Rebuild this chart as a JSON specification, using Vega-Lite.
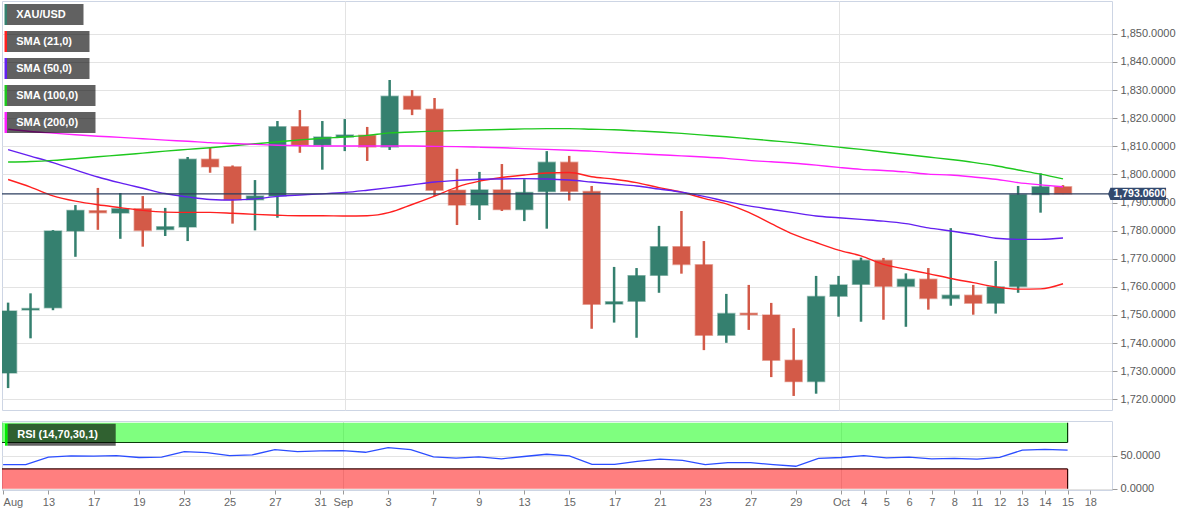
{
  "$schema": "https://vega.github.io/schema/vega-lite/v6.json",
  "padding": 0,
  "background": "white",
  "spacing": 9,
  "config": {
    "view": {"fill": "#f6f6f6", "stroke": "#cdd5e4", "strokeWidth": 1},
    "font": "Liberation Sans",
    "axis": {"labelFont": "Liberation Sans", "labelFontSize": 11, "labelColor": "#5a5a5a", "tickColor": "#9a9a9a", "gridColor": "#e3e3e3", "domain": false, "labelOverlap": false}
  },
  "datasets": {
    "candles": [
      {"i": 0, "date": "Aug 11", "open": 1729.4, "high": 1754.4, "low": 1724.0, "close": 1751.4},
      {"i": 1, "date": "Aug 12", "open": 1751.8, "high": 1757.7, "low": 1741.7, "close": 1752.3},
      {"i": 2, "date": "Aug 13", "open": 1752.6, "high": 1780.2, "low": 1751.7, "close": 1779.9},
      {"i": 3, "date": "Aug 16", "open": 1779.9, "high": 1789.1, "low": 1770.7, "close": 1787.2},
      {"i": 4, "date": "Aug 17", "open": 1787.1, "high": 1795.2, "low": 1780.3, "close": 1786.4},
      {"i": 5, "date": "Aug 18", "open": 1786.3, "high": 1793.4, "low": 1777.1, "close": 1787.8},
      {"i": 6, "date": "Aug 19", "open": 1787.8, "high": 1792.3, "low": 1774.3, "close": 1780.1},
      {"i": 7, "date": "Aug 20", "open": 1780.4, "high": 1788.1, "low": 1778.1, "close": 1781.4},
      {"i": 8, "date": "Aug 23", "open": 1781.3, "high": 1806.2, "low": 1776.3, "close": 1805.4},
      {"i": 9, "date": "Aug 24", "open": 1805.4, "high": 1809.4, "low": 1800.6, "close": 1802.7},
      {"i": 10, "date": "Aug 25", "open": 1802.7, "high": 1803.2, "low": 1782.5, "close": 1791.0},
      {"i": 11, "date": "Aug 26", "open": 1791.0, "high": 1798.0, "low": 1780.1, "close": 1792.3},
      {"i": 12, "date": "Aug 27", "open": 1792.3, "high": 1819.0, "low": 1784.6, "close": 1817.0},
      {"i": 13, "date": "Aug 30", "open": 1817.0, "high": 1822.9, "low": 1807.7, "close": 1810.5},
      {"i": 14, "date": "Aug 31", "open": 1810.5, "high": 1819.0, "low": 1801.7, "close": 1813.3},
      {"i": 15, "date": "Sep 1", "open": 1813.3, "high": 1819.7, "low": 1808.3, "close": 1814.0},
      {"i": 16, "date": "Sep 2", "open": 1813.9, "high": 1816.9, "low": 1804.8, "close": 1809.8},
      {"i": 17, "date": "Sep 3", "open": 1809.8, "high": 1833.6, "low": 1808.7, "close": 1827.8},
      {"i": 18, "date": "Sep 6", "open": 1827.8, "high": 1830.0, "low": 1821.1, "close": 1823.2},
      {"i": 19, "date": "Sep 7", "open": 1823.2, "high": 1827.2, "low": 1792.3, "close": 1794.4},
      {"i": 20, "date": "Sep 8", "open": 1794.4, "high": 1802.0, "low": 1782.0, "close": 1789.1},
      {"i": 21, "date": "Sep 9", "open": 1789.1, "high": 1800.9, "low": 1783.8, "close": 1794.5},
      {"i": 22, "date": "Sep 10", "open": 1794.5, "high": 1803.7, "low": 1787.0, "close": 1787.5},
      {"i": 23, "date": "Sep 13", "open": 1787.5, "high": 1798.3, "low": 1783.4, "close": 1793.6},
      {"i": 24, "date": "Sep 14", "open": 1793.9, "high": 1808.3, "low": 1780.7, "close": 1804.3},
      {"i": 25, "date": "Sep 15", "open": 1804.3, "high": 1806.6, "low": 1790.7, "close": 1794.0},
      {"i": 26, "date": "Sep 16", "open": 1793.9, "high": 1795.9, "low": 1745.1, "close": 1753.8},
      {"i": 27, "date": "Sep 17", "open": 1753.9, "high": 1767.1, "low": 1747.3, "close": 1754.7},
      {"i": 28, "date": "Sep 20", "open": 1754.9, "high": 1766.7, "low": 1741.9, "close": 1764.0},
      {"i": 29, "date": "Sep 21", "open": 1764.1, "high": 1781.7, "low": 1757.9, "close": 1774.3},
      {"i": 30, "date": "Sep 22", "open": 1774.3, "high": 1787.0, "low": 1764.7, "close": 1768.0},
      {"i": 31, "date": "Sep 23", "open": 1767.9, "high": 1776.3, "low": 1737.5, "close": 1742.8},
      {"i": 32, "date": "Sep 24", "open": 1742.8, "high": 1757.5, "low": 1740.1, "close": 1750.5},
      {"i": 33, "date": "Sep 27", "open": 1750.6, "high": 1760.7, "low": 1744.7, "close": 1750.1},
      {"i": 34, "date": "Sep 28", "open": 1750.0, "high": 1754.3, "low": 1727.9, "close": 1733.9},
      {"i": 35, "date": "Sep 29", "open": 1733.9, "high": 1745.3, "low": 1721.2, "close": 1726.3},
      {"i": 36, "date": "Sep 30", "open": 1726.3, "high": 1763.9, "low": 1722.0, "close": 1756.6},
      {"i": 37, "date": "Oct 1", "open": 1756.7, "high": 1763.9, "low": 1749.4, "close": 1760.7},
      {"i": 38, "date": "Oct 4", "open": 1760.9, "high": 1770.4, "low": 1747.6, "close": 1769.4},
      {"i": 39, "date": "Oct 5", "open": 1769.4, "high": 1770.3, "low": 1748.3, "close": 1760.2},
      {"i": 40, "date": "Oct 6", "open": 1760.2, "high": 1764.8, "low": 1745.8, "close": 1762.7},
      {"i": 41, "date": "Oct 7", "open": 1762.7, "high": 1766.7, "low": 1751.9, "close": 1755.9},
      {"i": 42, "date": "Oct 8", "open": 1755.9, "high": 1780.9, "low": 1753.3, "close": 1757.0},
      {"i": 43, "date": "Oct 11", "open": 1757.0, "high": 1760.7, "low": 1750.1, "close": 1754.2},
      {"i": 44, "date": "Oct 12", "open": 1754.2, "high": 1769.2, "low": 1750.5, "close": 1760.0},
      {"i": 45, "date": "Oct 13", "open": 1760.1, "high": 1795.9, "low": 1757.9, "close": 1792.9},
      {"i": 46, "date": "Oct 14", "open": 1792.9, "high": 1800.4, "low": 1786.4, "close": 1795.6},
      {"i": 47, "date": "Oct 15", "open": 1795.6, "high": 1796.2, "low": 1793.0, "close": 1793.06}
    ],
    "sma": [
      {"i": 0, "SMA (21,0)": 1798.2, "SMA (50,0)": 1808.8, "SMA (100,0)": 1804.4, "SMA (200,0)": 1816.1},
      {"i": 1, "SMA (21,0)": 1795.5, "SMA (50,0)": 1806.5, "SMA (100,0)": 1804.6, "SMA (200,0)": 1815.3},
      {"i": 2, "SMA (21,0)": 1792.4, "SMA (50,0)": 1804.2, "SMA (100,0)": 1805.0, "SMA (200,0)": 1814.7},
      {"i": 3, "SMA (21,0)": 1790.5, "SMA (50,0)": 1801.6, "SMA (100,0)": 1805.6, "SMA (200,0)": 1814.1},
      {"i": 4, "SMA (21,0)": 1789.2, "SMA (50,0)": 1799.1, "SMA (100,0)": 1806.3, "SMA (200,0)": 1813.6},
      {"i": 5, "SMA (21,0)": 1788.2, "SMA (50,0)": 1797.0, "SMA (100,0)": 1806.9, "SMA (200,0)": 1813.2},
      {"i": 6, "SMA (21,0)": 1787.2, "SMA (50,0)": 1795.1, "SMA (100,0)": 1807.6, "SMA (200,0)": 1812.7},
      {"i": 7, "SMA (21,0)": 1786.6, "SMA (50,0)": 1793.2, "SMA (100,0)": 1808.3, "SMA (200,0)": 1812.2},
      {"i": 8, "SMA (21,0)": 1786.5, "SMA (50,0)": 1792.0, "SMA (100,0)": 1808.9, "SMA (200,0)": 1811.8},
      {"i": 9, "SMA (21,0)": 1786.5, "SMA (50,0)": 1791.1, "SMA (100,0)": 1809.5, "SMA (200,0)": 1811.3},
      {"i": 10, "SMA (21,0)": 1786.2, "SMA (50,0)": 1790.9, "SMA (100,0)": 1810.2, "SMA (200,0)": 1811.0},
      {"i": 11, "SMA (21,0)": 1785.8, "SMA (50,0)": 1791.3, "SMA (100,0)": 1810.9, "SMA (200,0)": 1810.7},
      {"i": 12, "SMA (21,0)": 1785.5, "SMA (50,0)": 1792.2, "SMA (100,0)": 1811.6, "SMA (200,0)": 1810.4},
      {"i": 13, "SMA (21,0)": 1785.3, "SMA (50,0)": 1792.7, "SMA (100,0)": 1812.3, "SMA (200,0)": 1810.2},
      {"i": 14, "SMA (21,0)": 1785.3, "SMA (50,0)": 1793.1, "SMA (100,0)": 1812.9, "SMA (200,0)": 1810.1},
      {"i": 15, "SMA (21,0)": 1785.2, "SMA (50,0)": 1793.6, "SMA (100,0)": 1813.3, "SMA (200,0)": 1810.1},
      {"i": 16, "SMA (21,0)": 1785.3, "SMA (50,0)": 1794.4, "SMA (100,0)": 1813.9, "SMA (200,0)": 1810.1},
      {"i": 17, "SMA (21,0)": 1786.5, "SMA (50,0)": 1795.3, "SMA (100,0)": 1814.8, "SMA (200,0)": 1810.1},
      {"i": 18, "SMA (21,0)": 1789.3, "SMA (50,0)": 1796.3, "SMA (100,0)": 1815.1, "SMA (200,0)": 1810.1},
      {"i": 19, "SMA (21,0)": 1792.3, "SMA (50,0)": 1797.3, "SMA (100,0)": 1815.4, "SMA (200,0)": 1810.0},
      {"i": 20, "SMA (21,0)": 1795.5, "SMA (50,0)": 1797.9, "SMA (100,0)": 1815.6, "SMA (200,0)": 1809.9},
      {"i": 21, "SMA (21,0)": 1797.6, "SMA (50,0)": 1798.3, "SMA (100,0)": 1815.8, "SMA (200,0)": 1809.7},
      {"i": 22, "SMA (21,0)": 1798.9, "SMA (50,0)": 1798.4, "SMA (100,0)": 1816.0, "SMA (200,0)": 1809.5},
      {"i": 23, "SMA (21,0)": 1799.8, "SMA (50,0)": 1798.5, "SMA (100,0)": 1816.2, "SMA (200,0)": 1809.2},
      {"i": 24, "SMA (21,0)": 1800.5, "SMA (50,0)": 1798.4, "SMA (100,0)": 1816.3, "SMA (200,0)": 1808.9},
      {"i": 25, "SMA (21,0)": 1800.7, "SMA (50,0)": 1798.0, "SMA (100,0)": 1816.3, "SMA (200,0)": 1808.6},
      {"i": 26, "SMA (21,0)": 1799.2, "SMA (50,0)": 1797.3, "SMA (100,0)": 1816.1, "SMA (200,0)": 1808.3},
      {"i": 27, "SMA (21,0)": 1798.3, "SMA (50,0)": 1796.6, "SMA (100,0)": 1815.9, "SMA (200,0)": 1807.8},
      {"i": 28, "SMA (21,0)": 1797.1, "SMA (50,0)": 1795.9, "SMA (100,0)": 1815.5, "SMA (200,0)": 1807.4},
      {"i": 29, "SMA (21,0)": 1795.3, "SMA (50,0)": 1794.8, "SMA (100,0)": 1815.1, "SMA (200,0)": 1807.0},
      {"i": 30, "SMA (21,0)": 1793.7, "SMA (50,0)": 1793.7, "SMA (100,0)": 1814.6, "SMA (200,0)": 1806.6},
      {"i": 31, "SMA (21,0)": 1791.5, "SMA (50,0)": 1792.2, "SMA (100,0)": 1814.0, "SMA (200,0)": 1806.2},
      {"i": 32, "SMA (21,0)": 1789.5, "SMA (50,0)": 1790.4, "SMA (100,0)": 1813.4, "SMA (200,0)": 1805.7},
      {"i": 33, "SMA (21,0)": 1786.5, "SMA (50,0)": 1788.8, "SMA (100,0)": 1812.7, "SMA (200,0)": 1805.0},
      {"i": 34, "SMA (21,0)": 1782.5, "SMA (50,0)": 1787.6, "SMA (100,0)": 1812.0, "SMA (200,0)": 1804.5},
      {"i": 35, "SMA (21,0)": 1778.7, "SMA (50,0)": 1786.4, "SMA (100,0)": 1811.3, "SMA (200,0)": 1804.0},
      {"i": 36, "SMA (21,0)": 1775.8, "SMA (50,0)": 1785.2, "SMA (100,0)": 1810.5, "SMA (200,0)": 1803.3},
      {"i": 37, "SMA (21,0)": 1773.1, "SMA (50,0)": 1784.6, "SMA (100,0)": 1809.7, "SMA (200,0)": 1802.5},
      {"i": 38, "SMA (21,0)": 1771.0, "SMA (50,0)": 1784.0, "SMA (100,0)": 1808.9, "SMA (200,0)": 1801.8},
      {"i": 39, "SMA (21,0)": 1768.0, "SMA (50,0)": 1783.4, "SMA (100,0)": 1808.0, "SMA (200,0)": 1801.4},
      {"i": 40, "SMA (21,0)": 1766.3, "SMA (50,0)": 1782.5, "SMA (100,0)": 1807.1, "SMA (200,0)": 1800.9},
      {"i": 41, "SMA (21,0)": 1764.7, "SMA (50,0)": 1781.0, "SMA (100,0)": 1806.2, "SMA (200,0)": 1800.1},
      {"i": 42, "SMA (21,0)": 1763.0, "SMA (50,0)": 1779.9, "SMA (100,0)": 1805.3, "SMA (200,0)": 1799.8},
      {"i": 43, "SMA (21,0)": 1761.5, "SMA (50,0)": 1778.7, "SMA (100,0)": 1804.3, "SMA (200,0)": 1799.1},
      {"i": 44, "SMA (21,0)": 1760.0, "SMA (50,0)": 1777.3, "SMA (100,0)": 1803.1, "SMA (200,0)": 1798.3},
      {"i": 45, "SMA (21,0)": 1759.2, "SMA (50,0)": 1776.9, "SMA (100,0)": 1801.6, "SMA (200,0)": 1797.1},
      {"i": 46, "SMA (21,0)": 1759.3, "SMA (50,0)": 1776.9, "SMA (100,0)": 1800.1, "SMA (200,0)": 1796.3},
      {"i": 47, "SMA (21,0)": 1761.1, "SMA (50,0)": 1777.4, "SMA (100,0)": 1798.4, "SMA (200,0)": 1795.6}
    ],
    "rsi": [
      {"i": 0, "rsi": 36.4}, {"i": 1, "rsi": 36.4}, {"i": 2, "rsi": 47.8}, {"i": 3, "rsi": 49.8},
      {"i": 4, "rsi": 49.3}, {"i": 5, "rsi": 50.2}, {"i": 6, "rsi": 47.3}, {"i": 7, "rsi": 47.8},
      {"i": 8, "rsi": 56.2}, {"i": 9, "rsi": 54.7}, {"i": 10, "rsi": 50.2}, {"i": 11, "rsi": 51.2},
      {"i": 12, "rsi": 59.1}, {"i": 13, "rsi": 56.2}, {"i": 14, "rsi": 57.2}, {"i": 15, "rsi": 57.7},
      {"i": 16, "rsi": 55.2}, {"i": 17, "rsi": 62.1}, {"i": 18, "rsi": 59.1}, {"i": 19, "rsi": 48.3},
      {"i": 20, "rsi": 46.3}, {"i": 21, "rsi": 48.3}, {"i": 22, "rsi": 45.3}, {"i": 23, "rsi": 48.8},
      {"i": 24, "rsi": 52.2}, {"i": 25, "rsi": 49.8}, {"i": 26, "rsi": 36.9}, {"i": 27, "rsi": 36.9},
      {"i": 28, "rsi": 41.4}, {"i": 29, "rsi": 44.8}, {"i": 30, "rsi": 42.8}, {"i": 31, "rsi": 36.4},
      {"i": 32, "rsi": 39.4}, {"i": 33, "rsi": 39.4}, {"i": 34, "rsi": 36.4}, {"i": 35, "rsi": 34.0},
      {"i": 36, "rsi": 45.8}, {"i": 37, "rsi": 47.3}, {"i": 38, "rsi": 50.2}, {"i": 39, "rsi": 46.8},
      {"i": 40, "rsi": 47.8}, {"i": 41, "rsi": 45.3}, {"i": 42, "rsi": 45.8}, {"i": 43, "rsi": 44.8},
      {"i": 44, "rsi": 47.3}, {"i": 45, "rsi": 58.6}, {"i": 46, "rsi": 59.6}, {"i": 47, "rsi": 58.6}
    ],
    "bands": [
      {"zone": "overbought", "lo": 70, "hi": 100, "edge": 70},
      {"zone": "oversold", "lo": 0, "hi": 30, "edge": 30}
    ],
    "last": [{"price": 1793.06}],
    "mainlegend": [
      {"name": "XAU/USD", "key": "XAU/USD"},
      {"name": "SMA (21,0)", "key": "SMA (21,0)"},
      {"name": "SMA (50,0)", "key": "SMA (50,0)"},
      {"name": "SMA (100,0)", "key": "SMA (100,0)"},
      {"name": "SMA (200,0)", "key": "SMA (200,0)"}
    ],
    "rsilegend": [{"name": "RSI (14,70,30,1)", "key": "RSI (14,70,30,1)"}]
  },
  "vconcat": [
    {
      "width": 1110,
      "height": 409,
      "layer": [
        {
          "data": {"name": "candles"},
          "mark": {"type": "rule", "strokeWidth": 2.5, "clip": true},
          "encoding": {
            "x": {"field": "i", "type": "quantitative", "scale": {"domain": [-0.0486, 48.96], "nice": false, "zero": false}, "axis": {"values": [15, 37], "tickCount": 100, "labels": false, "ticks": false, "grid": true, "domain": false, "title": null}},
            "y": {"field": "low", "type": "quantitative", "scale": {"domain": [1716.2, 1861.7], "nice": false, "zero": false}, "axis": {"orient": "right", "values": [1720, 1730, 1740, 1750, 1760, 1770, 1780, 1790, 1800, 1810, 1820, 1830, 1840, 1850], "tickCount": 100, "format": ",.4f", "tickSize": 5, "labelPadding": 3, "grid": true, "title": null, "labelOverlap": false, "labelBound": false}},
            "y2": {"field": "high"},
            "color": {"condition": {"test": "datum.close >= datum.open", "value": "#35806f"}, "value": "#d35a48"}
          }
        },
        {
          "data": {"name": "candles"},
          "mark": {"type": "bar", "width": 17, "strokeWidth": 1.5, "strokeOpacity": 0.45, "clip": true},
          "encoding": {
            "x": {"field": "i", "type": "quantitative"},
            "y": {"field": "open", "type": "quantitative"},
            "y2": {"field": "close"},
            "fill": {"condition": {"test": "datum.close >= datum.open", "value": "#35806f"}, "value": "#d35a48"},
            "stroke": {"condition": {"test": "datum.close >= datum.open", "value": "#35806f"}, "value": "#d35a48"}
          }
        },
        {
          "data": {"name": "sma"},
          "transform": [{"fold": ["SMA (21,0)", "SMA (50,0)", "SMA (100,0)", "SMA (200,0)"], "as": ["series", "value"]}],
          "mark": {"type": "line", "strokeWidth": 1.4, "interpolate": "monotone", "clip": true},
          "encoding": {
            "x": {"field": "i", "type": "quantitative"},
            "y": {"field": "value", "type": "quantitative"},
            "color": {
              "field": "series", "type": "nominal",
              "scale": {"domain": ["SMA (21,0)", "SMA (50,0)", "SMA (100,0)", "SMA (200,0)"], "range": ["#ff2020", "#6420f0", "#1ec81e", "#ff20ff"]},
              "legend": null
            }
          }
        },
        {
          "data": {"name": "mainlegend"},
          "mark": {"type": "point", "filled": true, "opacity": 0},
          "encoding": {
            "fill": {
              "field": "key", "type": "nominal", "sort": null,
              "scale": {"range": ["#35806f", "#ff2020", "#6420f0", "#1ec81e", "#ff20ff"]},
              "legend": {
                "title": null, "orient": "none", "legendX": 2.5, "legendY": 3, "direction": "vertical",
                "symbolType": "M-1,-1H-0.76V1H-1Z", "symbolSize": 441, "symbolStrokeWidth": 0, "symbolOpacity": 1,
                "labelExpr": "''", "labelFontSize": 11, "rowPadding": 6, "padding": 0
              }
            }
          }
        },
        {
          "data": {"name": "mainlegend"},
          "mark": {"type": "point", "filled": true, "opacity": 0, "color": "#000000"},
          "encoding": {
            "shape": {
              "field": "name", "type": "nominal", "sort": null,
              "scale": {"range": ["M-0.762,-1H6.524V1H-0.762Z", "M-0.762,-1H7.095V1H-0.762Z", "M-0.762,-1H7.095V1H-0.762Z", "M-0.762,-1H7.667V1H-0.762Z", "M-0.762,-1H7.667V1H-0.762Z"]},
              "legend": {
                "title": null, "orient": "none", "legendX": 2.5, "legendY": 3, "direction": "vertical",
                "symbolSize": 441, "symbolFillColor": "#000000", "symbolStrokeWidth": 0, "symbolOpacity": 0.62,
                "labelColor": "#ffffff", "labelFont": "Liberation Sans", "labelFontSize": 11, "labelFontWeight": "bold", "labelOffset": -9.3, "labelLimit": 200,
                "rowPadding": 6, "padding": 0
              }
            }
          }
        },
        {
          "data": {"name": "last"},
          "mark": {"type": "rule", "color": "#2c3e5f", "strokeWidth": 1.2},
          "encoding": {
            "y": {"field": "price", "type": "quantitative"}
          }
        },
        {
          "data": {"name": "last"},
          "mark": {"type": "point", "shape": "M-1,0L-0.92,-0.21L1,-0.21L1,0.21L-0.92,0.21Z", "size": 3364, "filled": true, "opacity": 1, "color": "#33496d", "clip": false},
          "encoding": {
            "x": {"datum": 50.3, "type": "quantitative"},
            "y": {"field": "price", "type": "quantitative"}
          }
        },
        {
          "data": {"name": "last"},
          "mark": {"type": "text", "color": "#ffffff", "font": "Liberation Sans", "fontSize": 10.5, "fontWeight": "bold", "align": "center", "baseline": "middle", "clip": false},
          "encoding": {
            "x": {"datum": 50.42, "type": "quantitative"},
            "y": {"field": "price", "type": "quantitative"},
            "text": {"field": "price", "type": "quantitative", "format": ",.4f"}
          }
        }
      ]
    },
    {
      "width": 1110,
      "height": 69,
      "layer": [
        {
          "data": {"name": "bands"},
          "mark": {"type": "rect", "fillOpacity": 0.5, "clip": true},
          "encoding": {
            "x": {"datum": -1, "type": "quantitative", "scale": {"domain": [-0.0486, 48.96], "nice": false, "zero": false}, "axis": {"values": [0, 2, 4, 6, 8, 10, 12, 14, 15, 17, 19, 21, 23, 25, 27, 29, 31, 33, 35, 37, 38, 39, 40, 41, 42, 43, 44, 45, 46, 47, 48], "tickCount": 100, "labelExpr": "['Aug','','13','','17','','19','','23','','25','','27','','31','Sep','','3','','7','','9','','13','','15','','17','','21','','23','','27','','29','','Oct','4','5','6','7','8','11','12','13','14','15','18'][datum.value]", "labelFlush": 5, "labelOverlap": false, "labelBound": false, "tickSize": 4, "labelPadding": 2, "labelColor": "#666666", "grid": true, "gridOpacity": {"condition": {"test": "datum.value == 15 || datum.value == 37", "value": 1}, "value": 0}, "title": null}},
            "x2": {"datum": 47},
            "y": {"field": "lo", "type": "quantitative", "scale": {"domain": [-2.0, 102.6], "nice": false, "zero": false}, "axis": {"orient": "right", "values": [0, 50], "tickCount": 100, "format": ".4f", "tickSize": 5, "labelPadding": 3, "grid": true, "title": null, "labelOverlap": false}},
            "y2": {"field": "hi"},
            "fill": {"condition": {"test": "datum.lo >= 50", "value": "#00ff00"}, "value": "#ff0000"}
          }
        },
        {
          "data": {"name": "bands"},
          "mark": {"type": "rule", "strokeWidth": 1.2, "clip": true},
          "encoding": {
            "x": {"datum": -1, "type": "quantitative"},
            "x2": {"datum": 47},
            "y": {"field": "edge", "type": "quantitative"},
            "color": {"condition": {"test": "datum.lo >= 50", "value": "#0b3a0b"}, "value": "#3a0505"}
          }
        },
        {
          "data": {"name": "bands"},
          "mark": {"type": "rule", "strokeWidth": 1.2, "clip": true},
          "encoding": {
            "x": {"datum": 47, "type": "quantitative"},
            "y": {"field": "lo", "type": "quantitative"},
            "y2": {"field": "hi"},
            "color": {"condition": {"test": "datum.lo >= 50", "value": "#0b3a0b"}, "value": "#3a0505"}
          }
        },
        {
          "data": {"name": "rsi"},
          "mark": {"type": "line", "strokeWidth": 1.3, "clip": true, "color": "#2b4dff"},
          "encoding": {
            "x": {"field": "i", "type": "quantitative"},
            "y": {"field": "rsi", "type": "quantitative"}
          }
        },
        {
          "data": {"name": "rsilegend"},
          "mark": {"type": "point", "filled": true, "opacity": 0},
          "encoding": {
            "fill": {
              "field": "key", "type": "nominal", "sort": null,
              "scale": {"range": ["#00ee00"]},
              "legend": {
                "title": null, "orient": "none", "legendX": 3, "legendY": 2.7, "direction": "vertical",
                "symbolType": "M-1,-1H-0.76V1H-1Z", "symbolSize": 484, "symbolStrokeWidth": 0, "symbolOpacity": 1,
                "labelExpr": "''", "labelFontSize": 11, "padding": 0
              }
            }
          }
        },
        {
          "data": {"name": "rsilegend"},
          "mark": {"type": "point", "filled": true, "opacity": 0, "color": "#000000"},
          "encoding": {
            "shape": {
              "field": "name", "type": "nominal", "sort": null,
              "scale": {"range": ["M-0.764,-1H9.064V1H-0.764Z"]},
              "legend": {
                "title": null, "orient": "none", "legendX": 3, "legendY": 2.7, "direction": "vertical",
                "symbolSize": 484, "symbolFillColor": "#000000", "symbolStrokeWidth": 0, "symbolOpacity": 0.62,
                "labelColor": "#ffffff", "labelFont": "Liberation Sans", "labelFontSize": 11, "labelFontWeight": "bold", "labelOffset": -9.8, "labelLimit": 200,
                "padding": 0
              }
            }
          }
        }
      ]
    }
  ],
  "resolve": {"scale": {"color": "independent", "shape": "independent", "fill": "independent"}, "legend": {"color": "independent", "shape": "independent", "fill": "independent"}}
}
